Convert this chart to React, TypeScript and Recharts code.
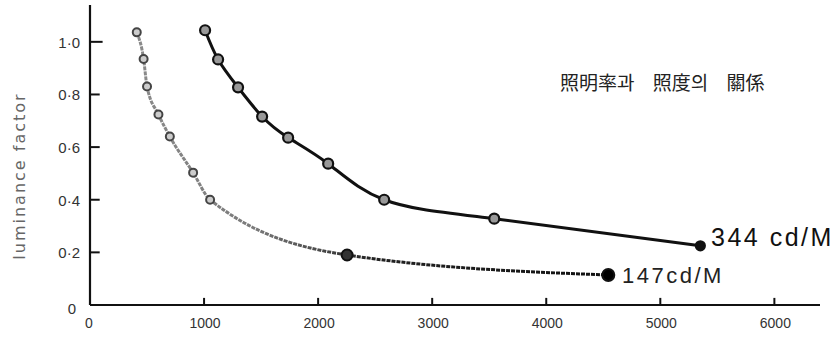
import React from 'react';
import { LineChart, Line, XAxis, YAxis } from 'recharts';

const upperIlluminance = [1009, 1123, 1298, 1509, 1737, 2088, 2579, 3544, 5351];
const upperFactor = [1.044, 0.933, 0.827, 0.716, 0.636, 0.537, 0.4, 0.328, 0.225];
const lowerIlluminance = [410, 470, 500, 600, 700, 904, 1053, 2254, 4544];
const lowerFactor = [1.036, 0.935, 0.83, 0.724, 0.64, 0.503, 0.4, 0.19, 0.114];

const xTicks = [0, 1000, 2000, 3000, 4000, 5000, 6000];
const yTicks = [0, 0.2, 0.4, 0.6, 0.8, 1.0];
const yTickLabels = ['0', '0·2', '0·4', '0·6', '0·8', '1·0'];

const title = '照明率과 照度의 關係';
const upperLabel = '344 cd/M';
const lowerLabel = '147cd/M';
const yLabel = 'luminance factor';

const upperData = upperIlluminance.map((x, i) => ({ x, y: upperFactor[i] }));
const lowerData = lowerIlluminance.map((x, i) => ({ x, y: lowerFactor[i] }));

// inward tick-mark lengths, in axis units
const X_TICK_LEN = 0.027;
const Y_TICK_LEN = 85;

const xTickMarks = xTicks
  .filter((t) => t !== 0)
  .map((t) => [
    { x: t, y: 0 },
    { x: t, y: X_TICK_LEN },
  ]);
const yTickMarks = yTicks
  .filter((t) => t !== 0)
  .map((t) => [
    { x: 0, y: t },
    { x: t === 1 ? Y_TICK_LEN * 1.3 : Y_TICK_LEN, y: t },
  ]);

const FONT = '"Liberation Sans", "DejaVu Sans", sans-serif';

const XTick = (props: any) => {
  const x = Number(props.x);
  const y = Number(props.y);
  const v = props.payload.value;
  return (
    <text
      x={v === 0 ? x - 1 : x + 1}
      y={y + 12}
      textAnchor="middle"
      fontSize={14}
      fill="#333"
      fontFamily={FONT}
    >
      {v}
    </text>
  );
};

const YTick = (props: any) => {
  const x = Number(props.x);
  const y = Number(props.y);
  const v = props.payload.value;
  const idx = yTicks.indexOf(v);
  const label = idx >= 0 ? yTickLabels[idx] : String(v);
  return (
    <text
      x={v === 0 ? x - 4 : x}
      y={v === 0 ? y + 9 : y + 6}
      textAnchor="end"
      fontSize={15}
      fill="#333"
      fontFamily={FONT}
    >
      {label}
    </text>
  );
};

const upperDot = (props: any) => {
  const { cx, cy, index } = props;
  const last = index === upperData.length - 1;
  return (
    <circle
      key={`u${index}`}
      cx={cx}
      cy={cy}
      r={last ? 4.5 : 5}
      fill={last ? '#111' : '#999'}
      stroke="#111"
      strokeWidth={2.2}
    />
  );
};

const lowerDot = (props: any) => {
  const { cx, cy, index } = props;
  const last = index === lowerData.length - 1;
  const filled = index === 7;
  return (
    <circle
      key={`l${index}`}
      cx={cx}
      cy={cy}
      r={last ? 6 : filled ? 5.5 : 4}
      fill={last ? '#000' : filled ? '#333' : '#ccc'}
      stroke={last || filled ? '#111' : '#444'}
      strokeWidth={2}
    />
  );
};

export default function App() {
  return (
    <div style={{ position: 'absolute', left: 0, top: 0, width: 834, height: 339, background: '#fff' }}>
      <LineChart width={834} height={339} margin={{ top: 5, right: 14, left: 0, bottom: 0 }}>
        <defs>
          <linearGradient id="lowerGrad" x1="0" y1="0" x2="1" y2="0">
            <stop offset="0%" stopColor="#8a8a8a" />
            <stop offset="25%" stopColor="#7a7a7a" />
            <stop offset="50%" stopColor="#222" />
            <stop offset="100%" stopColor="#111" />
          </linearGradient>
        </defs>
        <XAxis
          type="number"
          dataKey="x"
          domain={[0, 6400]}
          ticks={xTicks}
          interval={0}
          height={34}
          tickLine={false}
          tickSize={0}
          tickMargin={11}
          axisLine={{ stroke: '#111', strokeWidth: 2.2 }}
          tick={<XTick />}
          allowDuplicatedCategory={false}
        />
        <YAxis
          type="number"
          dataKey="y"
          domain={[0, 1.14]}
          ticks={yTicks}
          interval={0}
          width={90}
          tickLine={false}
          tickSize={0}
          tickMargin={10}
          axisLine={{ stroke: '#111', strokeWidth: 2.2 }}
          tick={<YTick />}
        />
        {xTickMarks.map((seg, i) => (
          <Line
            key={`xt${i}`}
            data={seg}
            dataKey="y"
            type="linear"
            stroke="#111"
            strokeWidth={2}
            dot={false}
            activeDot={false}
            legendType="none"
            isAnimationActive={false}
          />
        ))}
        {yTickMarks.map((seg, i) => (
          <Line
            key={`yt${i}`}
            data={seg}
            dataKey="y"
            type="linear"
            stroke="#111"
            strokeWidth={2}
            dot={false}
            activeDot={false}
            legendType="none"
            isAnimationActive={false}
          />
        ))}
        <Line
          data={upperData}
          dataKey="y"
          type="natural"
          stroke="#111"
          strokeWidth={3}
          dot={upperDot}
          activeDot={false}
          isAnimationActive={false}
        />
        <Line
          data={lowerData}
          dataKey="y"
          type="monotone"
          stroke="url(#lowerGrad)"
          strokeWidth={3}
          strokeDasharray="4 1"
          dot={lowerDot}
          activeDot={false}
          isAnimationActive={false}
        />
      </LineChart>
      <div
        style={{
          position: 'absolute',
          left: 19,
          top: 176,
          transform: 'translate(-50%, -50%) rotate(-90deg)',
          fontFamily: '"DejaVu Sans", sans-serif',
          fontSize: 16,
          letterSpacing: 2,
          color: '#666',
          whiteSpace: 'nowrap',
        }}
      >
        {yLabel}
      </div>
      <div
        style={{
          position: 'absolute',
          left: 560,
          top: 70,
          fontFamily: '"Noto Sans CJK KR", sans-serif',
          fontSize: 19,
          wordSpacing: 14,
          color: '#222',
          whiteSpace: 'nowrap',
          lineHeight: '24px',
        }}
      >
        {title}
      </div>
      <div
        style={{
          position: 'absolute',
          left: 711,
          top: 222,
          fontFamily: '"Liberation Sans", sans-serif',
          fontSize: 25,
          letterSpacing: 2.5,
          color: '#111',
          whiteSpace: 'nowrap',
          lineHeight: '30px',
        }}
      >
        {upperLabel}
      </div>
      <div
        style={{
          position: 'absolute',
          left: 622,
          top: 263,
          fontFamily: '"Liberation Sans", sans-serif',
          fontSize: 22,
          letterSpacing: 2.5,
          color: '#222',
          whiteSpace: 'nowrap',
          lineHeight: '26px',
        }}
      >
        {lowerLabel}
      </div>
    </div>
  );
}
